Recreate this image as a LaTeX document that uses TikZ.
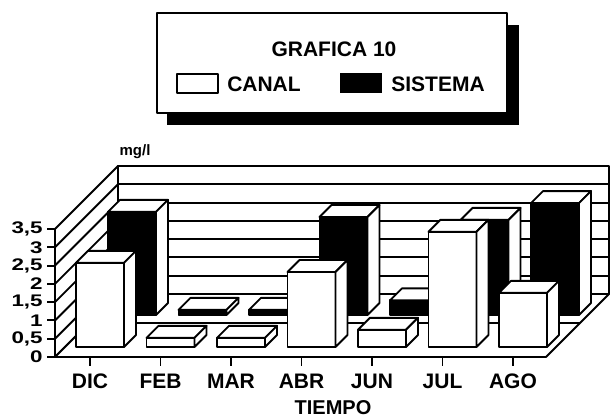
\documentclass[tikz,border=0pt]{standalone}
\usepackage{fontspec}
\setmainfont{Liberation Sans}
% 3D bar: #1 column x, #2 value, #3 front depth, #4 front fill
\newcommand\tdbar[4]{%
  \pgfmathsetmacro\bxa{#1-24+#3}%
  \pgfmathsetmacro\bxb{#1+24+#3}%
  \pgfmathsetmacro\bya{357-#3}%
  \pgfmathsetmacro\byb{357-#3-#2*36.57}%
  \filldraw[fill=#4] (\bxa,\bya) rectangle (\bxb,\byb);
  \filldraw[fill=white] (\bxa,\byb) -- ++(12,-12) -- ++(48,0) -- (\bxb,\byb) -- cycle;
  \filldraw[fill=white] (\bxb,\bya) -- ++(12,-12) -- ++(0,\byb-\bya) -- (\bxb,\byb) -- cycle;
}
\begin{document}
\begin{tikzpicture}[x=1pt,y=-1pt,line width=1.9pt,line join=round,
  lab/.style={font=\bfseries\fontsize{21}{21}\selectfont,inner sep=0pt},
  ylab/.style={font=\bfseries\fontsize{16}{16}\selectfont,inner sep=0pt,anchor=east,xscale=1.4,yscale=1.05}]
\useasboundingbox (0,0) rectangle (611,418);

% legend
\fill (167,25) rectangle (519,125);
\filldraw[fill=white,line width=1.5pt] (157,13) rectangle (507,113);
\node[lab] (title) at (334,49.5) {GRAFICA 10};
\draw[line width=1.5pt] (177,74) rectangle (218,93);
\node[lab] (lcanal) at (264,84.5) {CANAL};
\fill (340,73) rectangle (382,93);
\node[lab] (lsist) at (438,84.5) {SISTEMA};

% left wall
\filldraw[fill=white] (55,357) -- (55,229) -- (118,166) -- (118,294) -- cycle;
\foreach \v in {0.5,1,...,3} {
  \draw (55,357-\v*36.57) -- ++(63,-63);
}
% back wall
\filldraw[fill=white] (118,166) rectangle (609,294);
\foreach \v in {0.5,1,...,3} {
  \draw (118,294-\v*36.57) -- (609,294-\v*36.57);
}
% floor
\filldraw[fill=white] (55,357) -- (546,357) -- (609,294) -- (118,294) -- cycle;
\draw (89,323) -- (580,323);

% y axis ticks and labels
\foreach \v/\t in {0/0,0.5/{0,5},1/1,1.5/{1,5},2/2,2.5/{2,5},3/3,3.5/{3,5}} {
  \draw (47,357-\v*36.57) -- (55,357-\v*36.57);
  \node[ylab] at (44,357-\v*36.57) {\t};
}
\node[font=\bfseries\fontsize{15}{15}\selectfont,inner sep=0pt] (unit) at (135,152) {mg/l};

% SISTEMA bars (back row)
\tdbar{90}{2.82}{42}{black}
\tdbar{160.5}{0.14}{42}{black}
\tdbar{231}{0.14}{42}{black}
\tdbar{301.5}{2.68}{42}{black}
\tdbar{372}{0.4}{42}{black}
\tdbar{442.5}{2.6}{42}{black}
\tdbar{513}{3.06}{42}{black}
% CANAL bars (front row)
\tdbar{90}{2.3}{10}{white}
\tdbar{160.5}{0.25}{10}{white}
\tdbar{231}{0.25}{10}{white}
\tdbar{301.5}{2.05}{10}{white}
\tdbar{372}{0.47}{10}{white}
\tdbar{442.5}{3.15}{10}{white}
\tdbar{513}{1.48}{10}{white}

% x axis ticks and labels
\foreach \x/\m in {90/DIC,160.5/FEB,231/MAR,301.5/ABR,372/JUN,442.5/JUL,513/AGO} {
  \draw (\x,357) -- (\x,366);
  \node[lab] at (\x,381.5) {\m};
}
\node[lab,font=\bfseries\fontsize{20}{20}\selectfont] (tiempo) at (333,407.5) {TIEMPO};
\end{tikzpicture}
\end{document}
